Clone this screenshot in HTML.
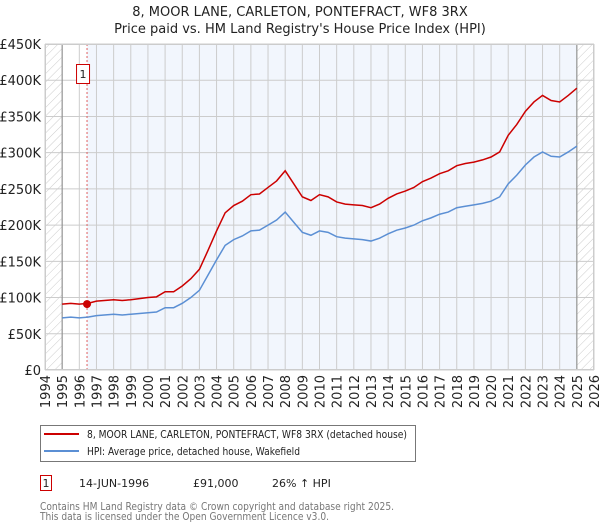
<!DOCTYPE html>
<html><head><meta charset="utf-8"><style>
body{margin:0;background:#fff;font-family:"DejaVu Sans","Liberation Sans",sans-serif;}
svg{display:block}
</style></head><body>
<svg width="600" height="530" id="c" font-family="DejaVu Sans, Liberation Sans, sans-serif">
<defs><pattern id="hatch" width="6" height="6" patternUnits="userSpaceOnUse" patternTransform="rotate(45)"><line x1="0" y1="0" x2="0" y2="6" stroke="#ccc" stroke-width="1"/></pattern></defs>
<text x="300" y="16" text-anchor="middle" font-size="13" fill="#222">8, MOOR LANE, CARLETON, PONTEFRACT, WF8 3RX</text>
<text x="300" y="33" text-anchor="middle" font-size="13" fill="#222">Price paid vs. HM Land Registry's House Price Index (HPI)</text>
<g id="plot"></g>
<g>
<rect x="40.5" y="425.5" width="375" height="36" fill="#fff" stroke="#777"/>
<line x1="44" y1="434" x2="79" y2="434" stroke="#cc0000" stroke-width="2"/>
<text x="87" y="438" font-size="10.5" textLength="320" lengthAdjust="spacingAndGlyphs" fill="#222">8, MOOR LANE, CARLETON, PONTEFRACT, WF8 3RX (detached house)</text>
<line x1="44" y1="451" x2="79" y2="451" stroke="#5b8fd4" stroke-width="2"/>
<text x="87" y="455" font-size="10.5" textLength="213" lengthAdjust="spacingAndGlyphs" fill="#222">HPI: Average price, detached house, Wakefield</text>
</g>
<g>
<rect x="40.5" y="475.5" width="11" height="15" fill="#fff" stroke="#cc0000"/>
<text x="46" y="487" font-size="11" text-anchor="middle" fill="#222">1</text>
<text x="79" y="487" font-size="11" fill="#222">14-JUN-1996</text>
<text x="193" y="487" font-size="11" fill="#222">£91,000</text>
<text x="272" y="487" font-size="11" fill="#222">26% ↑ HPI</text>
</g>
<text x="40" y="510" font-size="11" textLength="354" lengthAdjust="spacingAndGlyphs" fill="#777">Contains HM Land Registry data © Crown copyright and database right 2025.</text>
<text x="40" y="520" font-size="11" textLength="289" lengthAdjust="spacingAndGlyphs" fill="#777">This data is licensed under the Open Government Licence v3.0.</text>
</svg>
<script>
const years=[1995,1995.5,1996,1996.5,1997,1998,1998.5,1999,2000,2000.5,2001,2001.5,2002,2002.5,2003,2003.5,2004,2004.5,2005,2005.5,2006,2006.5,2007,2007.5,2008,2008.5,2009,2009.5,2010,2010.5,2011,2011.5,2012,2012.5,2013,2013.5,2014,2014.5,2015,2015.5,2016,2016.5,2017,2017.5,2018,2018.5,2019,2019.5,2020,2020.5,2021,2021.5,2022,2022.5,2023,2023.5,2024,2024.5,2025];
const hpiValues=[72,73,72,73,75,77,76,77,79,80,86,86,92,100,110,131,152,172,180,185,192,193,200,207,218,204,190,186,192,190,184,182,181,180,178,182,188,193,196,200,206,210,215,218,224,226,228,230,233,239,257,269,283,294,301,295,294,301,309];
const priceValues=[91,92,91,92,95,97,96,97,100,101,108,108,116,126,139,165,192,217,227,233,242,243,252,261,275,257,239,234,242,239,232,229,228,227,224,229,237,243,247,252,260,265,271,275,282,285,287,290,294,301,324,339,357,370,379,372,370,379,389];
const yTicks=[0,50,100,150,200,250,300,350,400,450];
const xTicks=[1994,1995,1996,1997,1998,1999,2000,2001,2002,2003,2004,2005,2006,2007,2008,2009,2010,2011,2012,2013,2014,2015,2016,2017,2018,2019,2020,2021,2022,2023,2024,2025,2026];
const saleYear=1996.45, saleValue=91;
const L=45,R=594,T=44,B=370;
const x=v=>L+(v-1994)/(2026-1994)*(R-L);
const y=v=>B-v/450*(B-T);
const NS="http://www.w3.org/2000/svg";
const g=document.getElementById('plot');
function mk(t,a){const e=document.createElementNS(NS,t);for(const k in a)e.setAttribute(k,a[k]);g.appendChild(e);return e;}
let e;
e=mk('rect',{x:x(saleYear),y:T,width:x(2025)-x(saleYear),height:B-T,fill:'#f2f6fd'});


e=mk('rect',{x:L,y:T,width:x(1995)-L,height:B-T,fill:'url(#hatch)'});


e=mk('rect',{x:x(2025),y:T,width:R-x(2025),height:B-T,fill:'url(#hatch)'});


yTicks.forEach(v=>{
 e=mk('line',{x1:L,x2:R,y1:y(v),y2:y(v),stroke:'#ccc','stroke-width':1});
 
 
 e=mk('text',{x:L-4,y:y(v)+5,'text-anchor':'end','font-size':13,fill:'#222'});
 e.textContent=v===0?'£0':'£'+v+'K';
 
 
});
xTicks.forEach(v=>{
 e=mk('line',{x1:x(v),x2:x(v),y1:T,y2:B,stroke:'#ccc','stroke-width':1});
 
 
 e=mk('text',{x:0,y:0,'text-anchor':'end','font-size':13,fill:'#222',transform:`translate(${x(v)+5},${B+5}) rotate(-90)`});
 e.textContent=v;
 
 
});
[1995,2025].forEach(v=>{e=mk('line',{x1:x(v),x2:x(v),y1:T,y2:B,stroke:'#888','stroke-width':1});
 
 });
e=mk('line',{x1:x(saleYear),x2:x(saleYear),y1:T,y2:B,stroke:'#e06060','stroke-width':1,'stroke-dasharray':'2,2'});


e=mk('polyline',{points:years.map((yr,i)=>x(yr)+','+y(hpiValues[i])).join(' '),fill:'none',stroke:'#5b8fd4','stroke-width':1.5});


e=mk('polyline',{points:years.map((yr,i)=>x(yr)+','+y(priceValues[i])).join(' '),fill:'none',stroke:'#cc0000','stroke-width':1.5});


e=mk('circle',{cx:x(saleYear),cy:y(saleValue),r:4,fill:'#cc0000'});


e=mk('rect',{x:x(saleYear)-10.5,y:64.5,width:13,height:19,fill:'#fff',stroke:'#cc0000'});


e=mk('text',{x:x(saleYear)-4,y:78,'text-anchor':'middle','font-size':11,fill:'#222'});
e.textContent='1';


e=mk('rect',{x:L+0.5,y:T+0.5,width:R-L-1,height:B-T-1,fill:'none',stroke:'#ccc'});


</script>
</body></html>
